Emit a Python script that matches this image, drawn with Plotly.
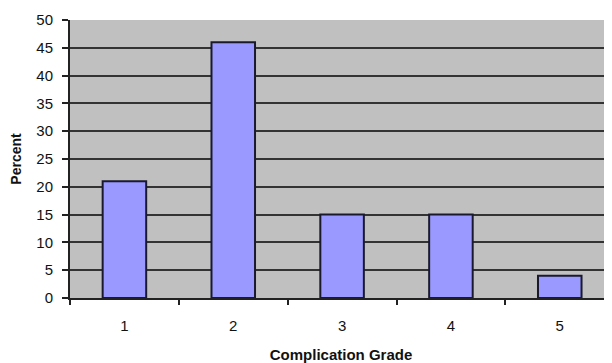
import plotly.graph_objects as go

grades = [1, 2, 3, 4, 5]
percent = [21, 46, 15, 15, 4]
y_ticks = [0, 5, 10, 15, 20, 25, 30, 35, 40, 45, 50]

fig = go.Figure(go.Bar(
    x=grades, y=percent, width=0.4,
    marker=dict(color="#9999FF", line=dict(color="#1a1a2e", width=2)),
))

fig.update_layout(
    width=612, height=355,
    margin=dict(l=62, r=8, t=12, b=65),
    paper_bgcolor="white", plot_bgcolor="#C0C0C0",
    font=dict(family="Liberation Sans, Arial", size=15, color="#111"),
    showlegend=False,
    xaxis=dict(
        range=[0.5, 5.48], tickmode="array", tickvals=grades,
        ticktext=[str(g) for g in grades], ticks="", showgrid=False,
        showline=True, linecolor="#222", linewidth=2, zeroline=False,
        minor=dict(ticks="outside", tick0=0.5, dtick=1, ticklen=5, tickcolor="#222", tickwidth=2, showgrid=False),
        title=dict(text="<b>Complication Grade</b>", font=dict(size=15), standoff=16),
        ticklabelstandoff=13, automargin=False,
    ),
    yaxis=dict(
        range=[0, 50], tickmode="array", tickvals=y_ticks, ticks="outside",
        ticklen=6, tickcolor="#222", tickwidth=2,
        showgrid=True, gridcolor="#333333", gridwidth=2,
        showline=True, linecolor="#222", linewidth=2, zeroline=False,
        title=dict(text="<b>Percent</b>", font=dict(size=14), standoff=12),
        ticklabelstandoff=6, automargin=False,
    ),
)

fig.write_html("out.html")
